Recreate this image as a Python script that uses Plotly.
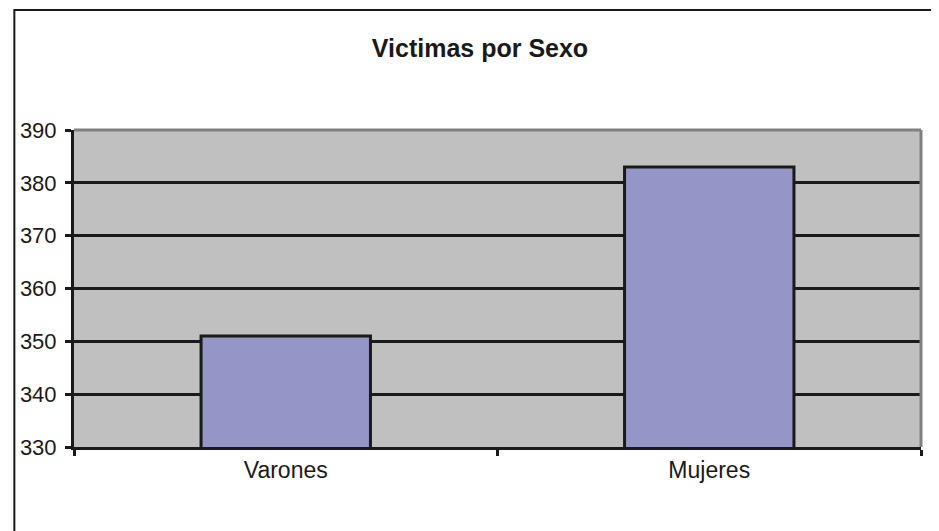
import plotly.graph_objects as go

categories = ["Varones", "Mujeres"]
values = [351, 383]
title_text = "Victimas por Sexo"
y_ticks = [330, 340, 350, 360, 370, 380, 390]

# page has an 8px body margin; figure sized to fit the 939x531 window
OFF = 8
W, H = 939 - OFF, 531 - OFF
L, R, T, B = 69 - OFF, 18, 130 - OFF, 84
pw, ph = W - L - R, H - T - B

fig = go.Figure(go.Bar(
    x=categories, y=values,
    marker=dict(color="#9595c8", line=dict(color="#1a1a1a", width=3)),
    width=0.4,
))

fig.update_layout(
    width=W, height=H,
    margin=dict(l=L, r=R, t=T, b=B),
    paper_bgcolor="white",
    plot_bgcolor="#c0c0c0",
    font=dict(family="Liberation Sans, Arial, sans-serif", size=22, color="#1a1a1a"),
    title=dict(text="<b>" + title_text + "</b>", x=(480 - OFF) / W, xanchor="center",
               y=1 - (48 - OFF) / H, yanchor="middle", font=dict(size=25)),
    showlegend=False,
    bargap=0.6,
)

fig.update_yaxes(
    range=[330, 390], tickvals=y_ticks,
    showgrid=True, gridcolor="#1a1a1a", gridwidth=3,
    showline=True, linecolor="#1a1a1a", linewidth=3,
    ticks="outside", ticklen=6, tickwidth=3, tickcolor="#1a1a1a",
    ticklabelstandoff=4,
    zeroline=False,
)
fig.update_xaxes(
    showgrid=False,
    showline=True, linecolor="#1a1a1a", linewidth=3,
    ticks="outside", tickson="boundaries", ticklen=6, tickwidth=3, tickcolor="#1a1a1a",
    tickfont=dict(size=23),
)

# plot area top/right gray border
fig.add_shape(type="line", xref="paper", yref="paper", x0=0, x1=1, y0=1, y1=1,
              line=dict(color="#808080", width=3), layer="above")
fig.add_shape(type="line", xref="paper", yref="paper", x0=1, x1=1, y0=0, y1=1,
              line=dict(color="#808080", width=3), layer="above")

# outer chart border (extends beyond page on right/bottom)
fig.add_shape(type="rect", xref="paper", yref="paper",
              x0=(1 - L) / pw, x1=(W + 20 - L) / pw,
              y0=-(B + 20) / ph, y1=(H - B - 2) / ph,
              line=dict(color="#1a1a1a", width=2), layer="below")

fig.write_html("out.html")
